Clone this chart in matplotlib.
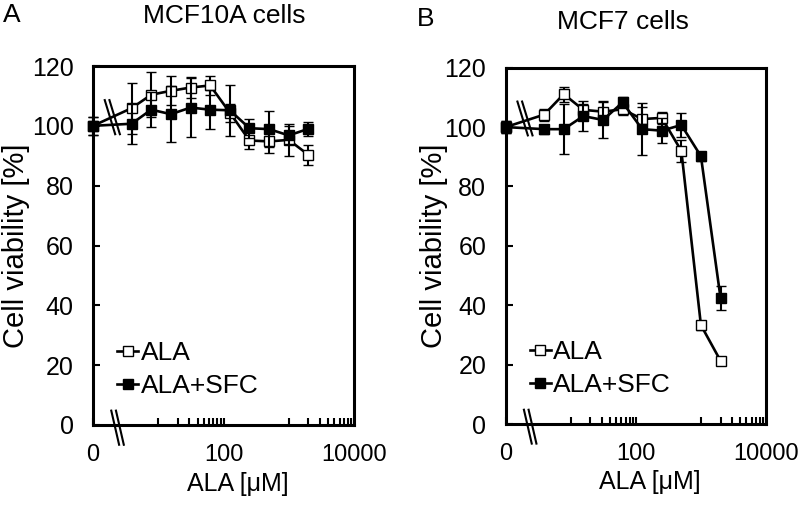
import numpy as np
import matplotlib
matplotlib.use("Agg")
import matplotlib.pyplot as plt
from matplotlib.lines import Line2D

plt.rcParams['font.family'] = ['Liberation Sans', 'DejaVu Sans']

# ---- data ----
conc = np.array([0, 3.9, 7.8, 15.6, 31.3, 62.5, 125, 250, 500, 1000, 2000])

a_ala = [100, 105.9, 110.4, 111.7, 112.8, 113.5, 104.4, 95.1, 94.8, 95.3, 90.3]
a_ala_err = [3, 8.5, 7.5, 4.8, 3.4, 3.2, 3, 3, 3.9, 5.3, 3.3]
a_sfc = [100, 100.7, 105.4, 103.9, 106.1, 105.4, 105.2, 99.2, 98.9, 96.8, 99.0]
a_sfc_err = [3, 6.7, 5.8, 9.4, 9.9, 6.5, 8.5, 3.1, 6.1, 3.0, 2.4]

b_ala = [100, 104.2, 111.1, 105.8, 105.2, 106.0, 102.7, 103.1, 92.0, 33.3, 21.3]
b_ala_err = [2, 2, 2.5, 2, 3.5, 2, 4, 2, 3.7, 1.5, 1]
b_sfc = [100, 99.3, 99.3, 103.7, 102.4, 108.3, 99.3, 98.8, 100.7, 90.2, 42.5]
b_sfc_err = [2, 1.5, 8.5, 5, 6.2, 1.8, 8.7, 4.3, 4.1, 1.5, 4]

titles = ['MCF10A cells', 'MCF7 cells']
letters = ['A', 'B']
series_labels = ['ALA', 'ALA+SFC']
xtick_vals = [1, 100, 10000]
xtick_labels = ['0', '100', '10000']
yticks = [0, 20, 40, 60, 80, 100, 120]

# zero concentration is drawn at the left edge of the log axis
xplot = np.where(conc == 0, 1, conc)

W, H = 800, 505
fig = plt.figure(figsize=(W / 100, H / 100), dpi=100)

axes_px = [(93, 66, 354, 425), (505.7, 67.7, 766, 424)]
data = [(a_ala, a_ala_err, a_sfc, a_sfc_err), (b_ala, b_ala_err, b_sfc, b_sfc_err)]
ylabel_x = [17, 435]

for i, (l, t, r, b) in enumerate(axes_px):
    ax = fig.add_axes([l / W, 1 - b / H, (r - l) / W, (b - t) / H])
    ala, ala_err, sfc, sfc_err = data[i]
    style = dict(fmt='-s', color='black', mec='black', mew=1.0, ms=7.8, lw=1.9,
                 elinewidth=1.5, capsize=3.5, capthick=3, ecolor='black',
                 clip_on=False)
    ax.errorbar(xplot, ala, yerr=ala_err, mfc='white', zorder=3, **style)
    ax.errorbar(xplot, sfc, yerr=sfc_err, mfc='black', zorder=4, **style)
    ax.set_xscale('log')
    ax.set_xlim(1, 10000)
    ax.set_ylim(0, 120)
    ax.set_xticks(xtick_vals)
    ax.set_xticklabels(xtick_labels)
    minor = [k * 10 for k in range(1, 10)] + [k * 1000 for k in range(1, 10)]
    ax.set_xticks(minor, minor=True)
    ax.xaxis.set_minor_formatter(matplotlib.ticker.NullFormatter())
    ax.set_yticks(yticks)
    ax.tick_params(axis='both', which='both', direction='in', length=5, width=1.5)
    ax.tick_params(axis='x', which='major', labelsize=17, pad=14)
    ax.tick_params(axis='y', which='major', labelsize=18, pad=14)
    for s in ax.spines.values():
        s.set_linewidth(2.2)
    ax.set_ylabel('Cell viability [%]', fontsize=21)
    ax.set_xlabel('ALA [μM]', fontsize=18)
    ax.xaxis.set_label_coords(0.555, -0.13)
    ax.yaxis.set_label_coords((ylabel_x[i] + 13 - l) / (r - l), 0.5)

    handles = [Line2D([], [], color='black', lw=1.9, marker='s', ms=7.8,
                      mfc='white', mec='black', mew=1.0),
               Line2D([], [], color='black', lw=1.9, marker='s', ms=7.8,
                      mfc='black', mec='black', mew=1.0)]
    ax.legend(handles, series_labels, loc='lower left',
              bbox_to_anchor=(0.092, 0.075), frameon=False,
              fontsize=19, handlelength=0.8, handletextpad=0.1,
              labelspacing=0.35, borderpad=0, borderaxespad=0)

    # axis break marks
    for dx in (0, 0.018):
        ax.add_line(Line2D([0.045 + dx, 0.085 + dx], [0.905, 0.81],
                           transform=ax.transAxes, color='black', lw=1.5,
                           clip_on=False, zorder=6))
        ax.add_line(Line2D([0.07 + dx, 0.1 + dx], [0.04, -0.055],
                           transform=ax.transAxes, color='black', lw=1.5,
                           clip_on=False, zorder=6))

fig.text(224 / W, 1 - 16 / H, titles[0], ha='center', va='center', fontsize=19)
fig.text(623 / W, 1 - 22 / H, titles[1], ha='center', va='center', fontsize=19)
fig.text(3 / W, 1 - 14.5 / H, letters[0], ha='left', va='center', fontsize=19)
fig.text(417 / W, 1 - 19.5 / H, letters[1], ha='left', va='center', fontsize=19)

fig.savefig('out.png', dpi=100)
